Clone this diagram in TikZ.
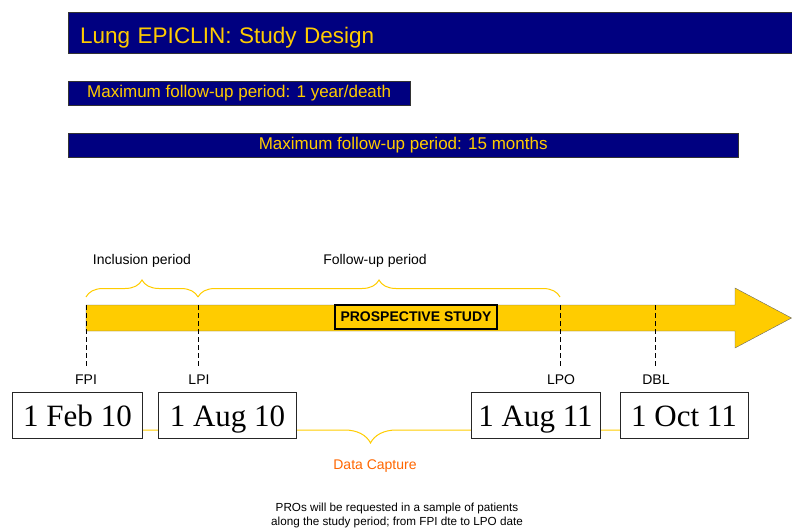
\documentclass[tikz,border=0pt]{standalone}
\usepackage{fontspec}
\setmainfont{Liberation Sans}
\newfontfamily\datefont{Liberation Serif}
\usetikzlibrary{positioning,decorations.pathreplacing,calc}

\definecolor{navy}{RGB}{0,0,128}
\definecolor{gold}{RGB}{255,204,0}
\definecolor{capture}{RGB}{255,102,0}

\begin{document}
\begin{tikzpicture}[
    x=1pt, y=-1pt,
    banner/.style={draw=black!80, fill=navy, text=gold, inner sep=0pt, minimum height=24pt, font=\fontsize{17}{19}\selectfont},
    datebox/.style={draw=black!85, fill=white, minimum height=46pt, inner sep=0pt, text height=29.4pt, text depth=6pt, font=\datefont\fontsize{31}{31}\selectfont},
    milestone/.style={font=\fontsize{14}{16}\selectfont, inner sep=0pt},
    period/.style={font=\fontsize{14}{16}\selectfont, inner sep=0pt},
    span/.style={draw=gold, line width=1pt, decorate, decoration={brace, amplitude=#1}},
    span/.default=17pt,
    cut/.style={dash pattern=on 5pt off 3pt, line width=0.7pt}
]
\useasboundingbox (0,0) rectangle (792,532);

% headers
\node[banner, anchor=north west, minimum height=41pt, text width=700pt, align=left, inner xsep=12pt, text height=24pt, text depth=2.4pt, font=\fontsize{22.5}{26}\selectfont] (title) at (68,12) {Lung EPICLIN: Study Design};
\node[banner, anchor=north west, minimum width=342pt] (fu1) at (68,81) {Maximum follow-up period: 1 year/death};
\node[banner, anchor=north west, minimum width=670pt] (fu2) at (68,133) {Maximum follow-up period: 15 months};

% time line
\coordinate (fpi) at (86,305);
\coordinate (lpi) at (198,305);
\coordinate (lpo) at (560,305);
\coordinate (dbl) at (655,305);

\draw[draw=black!60, fill=gold] (fpi) -- (735,305) -- (735,288) -- (791.5,318) -- (735,348) -- (735,331) -- (86,331) -- cycle;
\node[draw=black, line width=1.5pt, font=\bfseries\fontsize{14}{16}\selectfont, minimum width=162pt, minimum height=24pt, inner sep=0pt] (prosp) at (416,317) {PROSPECTIVE STUDY};

\foreach \m in {fpi,lpi,lpo,dbl}
    \draw[cut] (\m) -- ++(0,61);

\draw[span] ($(fpi)+(0,-8)$) -- ($(lpi)+(0,-8)$);
\draw[span] ($(lpi)+(0,-8)$) -- ($(lpo)+(0,-8)$);
\node[period] (incl) at (142,261) {Inclusion period};
\node[period] (follow) at (375,261) {Follow-up period};

% data capture runs under the date boxes
\draw[span=26pt] ($(dbl)+(0,112)$) -- ($(fpi)+(0,112)$);

\node[milestone] (fpilbl) at (86,380) {FPI};
\node[milestone] (lpilbl) at (199,380) {LPI};
\node[milestone] (lpolbl) at (561,380) {LPO};
\node[milestone] (dbllbl) at (656,380) {DBL};

\node[datebox, minimum width=130pt] (feb10) at (77.5,415) {1 Feb 10};
\node[datebox, minimum width=138pt] (aug10) at (227.5,415) {1 Aug 10};
\node[datebox, minimum width=129pt] (aug11) at (535.5,415) {1 Aug 11};
\node[datebox, minimum width=128pt] (oct11) at (684,415) {1 Oct 11};

\node[period, text=capture] (capture) at (375,466) {Data Capture};
\node[align=center, inner sep=0pt, font=\fontsize{11.7}{14}\selectfont] (note) at (397,515) {PROs will be requested in a sample of patients\\along the study period; from FPI dte to LPO date};

\end{tikzpicture}
\end{document}
